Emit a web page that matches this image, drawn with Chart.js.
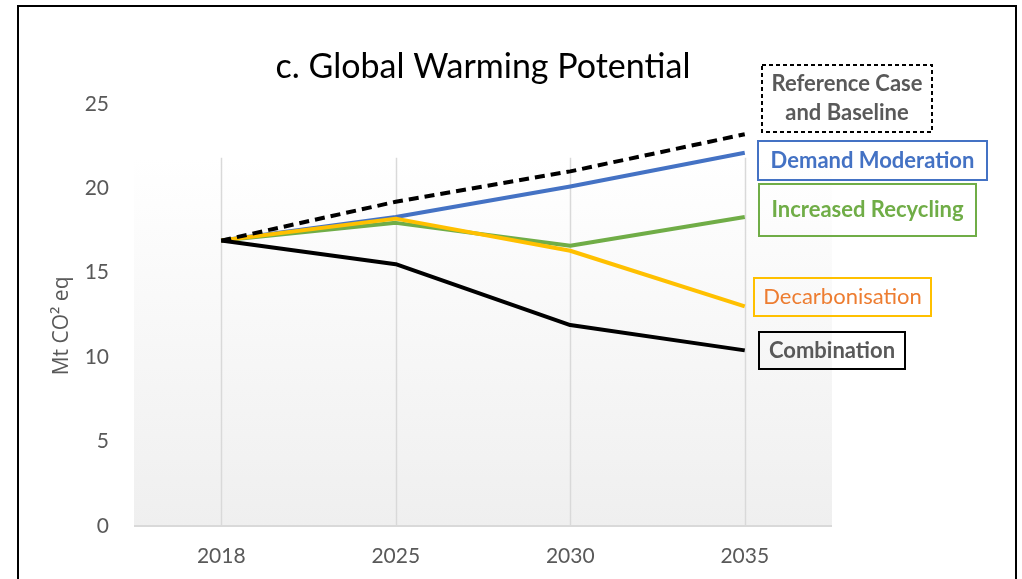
<!DOCTYPE html>
<html>
<head>
<meta charset="utf-8">
<script src="https://cdn.jsdelivr.net/npm/chart.js@4.4.1/dist/chart.umd.min.js"></script>
<style>
  html, body { margin: 0; padding: 0; background: #fff; }
  #wrap { width: 1022px; height: 579px; position: relative; }
</style>
</head>
<body>
<div id="wrap"><canvas id="gwpChart"></canvas></div>
<script>
const years = ['2018', '2025', '2030', '2035'];
const referenceCase = [16.9, 19.2, 21.0, 23.2];
const demandModeration = [16.9, 18.3, 20.1, 22.1];
const increasedRecycling = [16.9, 17.95, 16.6, 18.3];
const decarbonisation = [16.9, 18.2, 16.3, 13.0];
const combination = [16.9, 15.5, 11.9, 10.4];
const yTicks = [0, 5, 10, 15, 20, 25];

const seriesNames = ['Reference Case\nand Baseline', 'Demand Moderation', 'Increased Recycling', 'Decarbonisation', 'Combination'];
const yAxisTitle = 'Mt CO² eq';

// label boxes on the right (x, y, w, h, border colour, text colour, weight, dashed)
const labelBoxes = [
  { x: 762, y: 65, w: 170, h: 67, border: '#000000', color: '#595959', bold: true, dash: [4, 3] },
  { x: 758, y: 141, w: 229, h: 39, border: '#4472C4', color: '#4472C4', bold: true },
  { x: 759, y: 184, w: 217, h: 52, border: '#70AD47', color: '#70AD47', bold: true },
  { x: 754, y: 278, w: 177, h: 38, border: '#FFC000', color: '#ED7D31', bold: false },
  { x: 759, y: 332, w: 146, h: 37, border: '#000000', color: '#595959', bold: true }
];

const FONT = 'Lato, "Liberation Sans", sans-serif';

const framePlugin = {
  id: 'frame',
  beforeDraw(chart) {
    const c = chart.ctx;
    c.save();
    c.fillStyle = '#ffffff';
    c.fillRect(0, 0, chart.width, chart.height);
    c.strokeStyle = '#000000';
    c.lineWidth = 2;
    c.strokeRect(18, 6, 998, 640);
    c.restore();
  },
  beforeDatasetsDraw(chart) {
    const c = chart.ctx;
    const a = chart.chartArea;
    const x = chart.scales.x;
    const bgTop = a.top + 54;
    c.save();
    const g = c.createLinearGradient(0, bgTop, 0, a.bottom);
    g.addColorStop(0, '#ffffff');
    g.addColorStop(1, '#efefef');
    c.fillStyle = g;
    c.fillRect(a.left, bgTop, a.right - a.left, a.bottom - bgTop);
    c.strokeStyle = '#d9d9d9';
    c.lineWidth = 1.5;
    x.ticks.forEach((t, i) => {
      const px = Math.round(x.getPixelForTick(i)) + 0.5;
      c.beginPath();
      c.moveTo(px, bgTop);
      c.lineTo(px, a.bottom);
      c.stroke();
    });
    c.strokeStyle = '#d9d9d9';
    c.lineWidth = 2;
    c.beginPath();
    c.moveTo(a.left, a.bottom);
    c.lineTo(a.right, a.bottom);
    c.stroke();
    c.restore();
  },
  afterDraw(chart) {
    const c = chart.ctx;
    const a = chart.chartArea;
    c.save();
    // y axis title
    c.translate(62, (a.top + a.bottom) / 2 + 11);
    c.rotate(-Math.PI / 2);
    c.fillStyle = '#595959';
    c.font = '21px "Open Sans", sans-serif';
    c.textAlign = 'center';
    c.textBaseline = 'middle';
    c.fillText(yAxisTitle, 0, 0);
    c.restore();

    c.save();
    labelBoxes.forEach((b, i) => {
      c.strokeStyle = b.border;
      c.lineWidth = 2;
      c.setLineDash(b.dash || []);
      c.strokeRect(b.x, b.y, b.w, b.h);
      c.setLineDash([]);
      c.fillStyle = b.color;
      c.font = (b.bold ? 'bold ' : '') + '22px ' + FONT;
      c.textAlign = 'center';
      c.textBaseline = 'middle';
      const lines = seriesNames[i].split('\n');
      const lh = 29;
      const cy = b.y + b.h / 2 - (lines.length - 1) * lh / 2;
      lines.forEach((ln, j) => c.fillText(ln, b.x + b.w / 2, cy + j * lh));
    });
    c.restore();
  }
};

const ctx = document.getElementById('gwpChart').getContext('2d');

const gwpChart = new Chart(ctx,
  {
    type: 'line',
    data:
    {
      labels: years,
      datasets:
        [
          { label: seriesNames[0], data: referenceCase, borderColor: '#000000', borderDash: [10, 6], order: 0 },
          { label: seriesNames[4], data: combination, borderColor: '#000000', order: 1 },
          { label: seriesNames[3], data: decarbonisation, borderColor: '#FFC000', order: 2 },
          { label: seriesNames[2], data: increasedRecycling, borderColor: '#70AD47', order: 3 },
          { label: seriesNames[1], data: demandModeration, borderColor: '#4472C4', order: 4 }
        ]
    },
    options:
    {
      responsive: true,
      maintainAspectRatio: false,
      animation: false,
      clip: false,
      layout: { padding: { left: 0, right: 190, top: 0, bottom: 0 } },
      elements:
      {
        line: { borderWidth: 4, tension: 0, borderCapStyle: 'butt', borderJoinStyle: 'round' },
        point: { radius: 0, hoverRadius: 0 }
      },
      scales:
      {
        x:
        {
          offset: true,
          grid: { display: false, drawTicks: false },
          border: { display: false },
          ticks: { color: '#595959', font: { family: FONT, size: 21 }, padding: 18, maxRotation: 0 },
          afterFit: s => { s.height = 53; }
        },
        y:
        {
          min: 0,
          max: 25,
          afterBuildTicks: s => { s.ticks = yTicks.map(v => ({ value: v })); },
          grid: { display: false, drawTicks: false },
          border: { display: false },
          ticks: { color: '#595959', font: { family: FONT, size: 21 }, padding: 25 },
          afterFit: s => { s.width = 134; }
        }
      },
      plugins:
      {
        legend: { display: false },
        tooltip: { enabled: false },
        title:
        {
          display: true,
          fullSize: false,
          text: 'c. Global Warming Potential',
          color: '#000000',
          font: { family: FONT, size: 34, weight: 'normal' },
          padding: { top: 47, bottom: 16 }
        }
      }
    },
    plugins: [framePlugin]
  });
</script>
</body>
</html>
